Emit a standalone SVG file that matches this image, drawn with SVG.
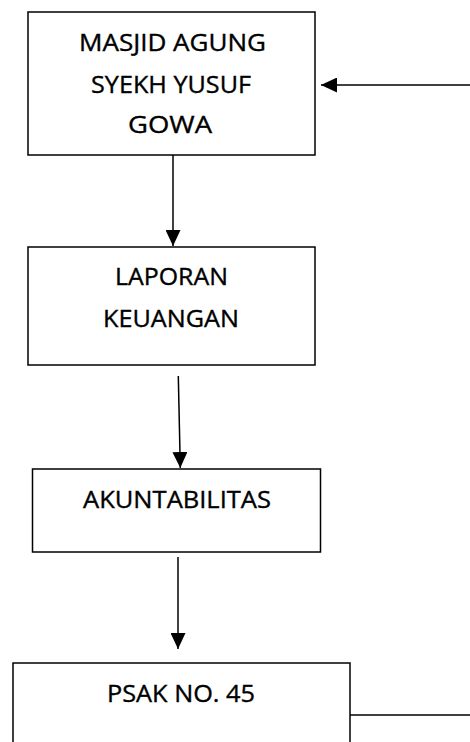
<svg xmlns="http://www.w3.org/2000/svg" width="470" height="742" viewBox="0 0 470 742">
<style>
.box{fill:#fff;stroke:#000;stroke-width:1.5}
.lbl{font-family:"Open Sans","DejaVu Sans",sans-serif;font-size:23.5px;fill:#000;stroke:#000;stroke-width:0.35;text-anchor:middle}
.con{stroke:#000;stroke-width:1.5;fill:none}
</style>
<defs>
<marker id="ah" markerUnits="userSpaceOnUse" markerWidth="16" markerHeight="15" viewBox="0 0 16 15" refX="16" refY="7.5" orient="auto">
<path d="M0,0 L16,7.5 L0,15 Z" fill="#000"/>
</marker>
</defs>
<rect width="470" height="742" fill="#fff"/>
<g id="connectors">
<line class="con" x1="470" y1="85" x2="321" y2="85" marker-end="url(#ah)"/>
<line class="con" x1="173" y1="153" x2="173" y2="246" marker-end="url(#ah)"/>
<line class="con" x1="178.3" y1="376" x2="180.3" y2="468" marker-end="url(#ah)"/>
<line class="con" x1="178" y1="557" x2="178" y2="649" marker-end="url(#ah)"/>
<line class="con" x1="350" y1="715" x2="470" y2="715"/>
</g>
<g id="masjid">
<rect class="box" x="28" y="12" width="287" height="143"/>
<text class="lbl" x="172.5" y="50.7" textLength="187" lengthAdjust="spacingAndGlyphs">MASJID AGUNG</text>
<text class="lbl" x="171" y="92.7" textLength="160" lengthAdjust="spacingAndGlyphs">SYEKH YUSUF</text>
<text class="lbl" x="170" y="133.3" textLength="84" lengthAdjust="spacingAndGlyphs">GOWA</text>
</g>
<g id="laporan">
<rect class="box" x="28" y="247" width="287" height="118"/>
<text class="lbl" x="171.5" y="285" textLength="113" lengthAdjust="spacingAndGlyphs">LAPORAN</text>
<text class="lbl" x="171" y="326.7" textLength="136" lengthAdjust="spacingAndGlyphs">KEUANGAN</text>
</g>
<g id="akuntabilitas">
<rect class="box" x="32.5" y="469" width="288" height="83"/>
<text class="lbl" x="177" y="507.7" textLength="188" lengthAdjust="spacingAndGlyphs">AKUNTABILITAS</text>
</g>
<g id="psak">
<rect class="box" x="13" y="663" width="337" height="100"/>
<text class="lbl" x="181" y="701.7" textLength="148" lengthAdjust="spacingAndGlyphs">PSAK NO. 45</text>
</g>
</svg>
